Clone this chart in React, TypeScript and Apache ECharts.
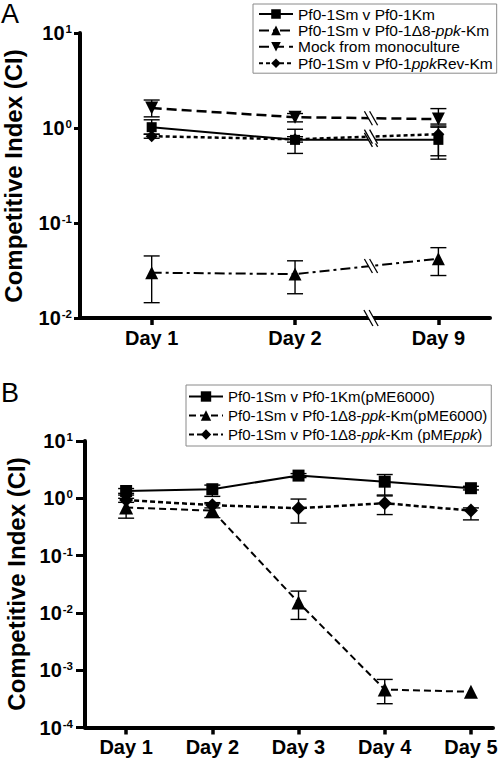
import React, { useEffect, useRef } from 'react';
import * as echarts from 'echarts';

const FONT = '"Liberation Sans", Arial, Helvetica, sans-serif';

// ---------- Panel A ----------
const daysA = ['Day 1', 'Day 2', 'Day 9'];
const posA = [1, 2, 3];
const namesA = [
  'Pf0-1Sm v Pf0-1Km',
  'Pf0-1Sm v Pf0-1Δ8-ppk-Km',
  'Mock from monoculture',
  'Pf0-1Sm v Pf0-1ppkRev-Km',
];
const richNamesA = [
  'Pf0-1Sm v Pf0-1Km',
  'Pf0-1Sm v Pf0-1Δ8-{i|ppk}-Km',
  'Mock from monoculture',
  'Pf0-1Sm v Pf0-1{i|ppk}Rev-Km',
];
const kmA = [1.02, 0.75, 0.75];
const kmA_lo = [0.86, 0.54, 0.51];
const kmA_hi = [1.22, 0.97, 1.02];
const d8A = [0.03, 0.029, 0.042];
const d8A_lo = [0.0145, 0.018, 0.028];
const d8A_hi = [0.045, 0.04, 0.055];
const mockA = [1.62, 1.3, 1.24];
const mockA_lo = [1.31, 1.16, 1.1];
const mockA_hi = [1.97, 1.42, 1.6];
const revA = [0.82, 0.76, 0.86];
const revA_lo = [0.78, 0.71, 0.47];
const revA_hi = [0.86, 0.81, 1.05];
const BREAK_AT = 2.53;

// ---------- Panel B ----------
const daysB = ['Day 1', 'Day 2', 'Day 3', 'Day 4', 'Day 5'];
const posB = [1, 2, 3, 4, 5];
const namesB = [
  'Pf0-1Sm v Pf0-1Km(pME6000)',
  'Pf0-1Sm v Pf0-1Δ8-ppk-Km(pME6000)',
  'Pf0-1Sm v Pf0-1Δ8-ppk-Km (pMEppk)',
];
const richNamesB = [
  'Pf0-1Sm v Pf0-1Km(pME6000)',
  'Pf0-1Sm v Pf0-1Δ8-{i|ppk}-Km(pME6000)',
  'Pf0-1Sm v Pf0-1Δ8-{i|ppk}-Km (pME{i|ppk})',
];
const kmB = [1.34, 1.44, 2.49, 1.95, 1.5];
const kmB_lo = [1.22, 1.08, 2.3, 1.14, 1.4];
const kmB_hi = [1.48, 1.7, 2.7, 2.6, 1.62];
const d8B = [0.69, 0.61, 0.0152, 0.00046, 0.00042];
const d8B_lo = [0.45, 0.46, 0.0077, 0.00026, null];
const d8B_hi = [1.14, 0.8, 0.024, 0.00069, null];
const ppkB = [0.93, 0.76, 0.67, 0.82, 0.61];
const ppkB_lo = [0.85, 0.68, 0.37, 0.52, 0.42];
const ppkB_hi = [1.0, 0.84, 0.97, 1.1, 0.68];

const BLACK = '#000';

function lineSeries(name: string, pos: number[], vals: number[], gi: number, symbol: string, size: number, dash: any, width: number, rotate = 0) {
  return {
    type: 'line',
    name,
    xAxisIndex: gi,
    yAxisIndex: gi,
    data: pos.map((x, i) => [x, vals[i]]),
    symbol,
    symbolSize: size,
    symbolRotate: rotate,
    color: BLACK,
    itemStyle: { color: BLACK },
    lineStyle: { color: BLACK, width, type: dash },
    z: 3,
  };
}

function errSeries(pos: number[], lo: (number | null)[], hi: (number | null)[], gi: number) {
  const data = pos
    .map((x, i) => (lo[i] == null || hi[i] == null ? null : [x, lo[i], hi[i]]))
    .filter((d) => d != null);
  return {
    type: 'custom',
    xAxisIndex: gi,
    yAxisIndex: gi,
    data,
    encode: { x: 0, y: [1, 2] },
    z: 2,
    silent: true,
    renderItem: (params: any, api: any) => {
      const x = api.value(0);
      const a = api.coord([x, api.value(1)]);
      const b = api.coord([x, api.value(2)]);
      const w = 8;
      const style = { stroke: BLACK, lineWidth: 1.4 };
      return {
        type: 'group',
        children: [
          { type: 'line', shape: { x1: a[0], y1: a[1], x2: b[0], y2: b[1] }, style },
          { type: 'line', shape: { x1: a[0] - w, y1: a[1], x2: a[0] + w, y2: a[1] }, style },
          { type: 'line', shape: { x1: b[0] - w, y1: b[1], x2: b[0] + w, y2: b[1] }, style },
        ],
      };
    },
  };
}

function breakSeries() {
  const lines = [kmA, d8A, mockA, revA];
  const data: number[][] = lines.map((arr) => [posA[1], arr[1], posA[2], arr[2]]);
  data.push([posA[1], 0.01, posA[2], 0.01]);
  return {
    type: 'custom',
    xAxisIndex: 0,
    yAxisIndex: 0,
    data,
    encode: { x: [0, 2], y: [1, 3] },
    z: 6,
    silent: true,
    clip: false,
    renderItem: (params: any, api: any) => {
      const x0 = api.value(0);
      const x1 = api.value(2);
      const p1 = api.coord([x0, api.value(1)]);
      const p2 = api.coord([x1, api.value(3)]);
      const t = (BREAK_AT - x0) / (x1 - x0);
      const cx = p1[0] + t * (p2[0] - p1[0]);
      const cy = p1[1] + t * (p2[1] - p1[1]);
      const axis = params.dataIndex === 4;
      const dx = axis ? 4.5 : 4;
      const dy = axis ? 8 : 7;
      const g = 2.6;
      const st = { stroke: BLACK, lineWidth: 1.3 };
      return {
        type: 'group',
        children: [
          {
            type: 'polygon',
            shape: { points: [[cx - g - dx, cy - dy], [cx + g - dx, cy - dy], [cx + g + dx, cy + dy], [cx - g + dx, cy + dy]] },
            style: { fill: '#fff' },
          },
          { type: 'line', shape: { x1: cx - g - dx, y1: cy - dy, x2: cx - g + dx, y2: cy + dy }, style: st },
          { type: 'line', shape: { x1: cx + g - dx, y1: cy - dy, x2: cx + g + dx, y2: cy + dy }, style: st },
        ],
      };
    },
  };
}

function yAxis(gi: number, min: number, tickLen: number, margin: number) {
  return {
    type: 'log',
    logBase: 10,
    gridIndex: gi,
    min,
    max: 10,
    axisLine: { show: true, onZero: false, lineStyle: { color: BLACK, width: 4 } },
    axisTick: { show: true, length: tickLen, lineStyle: { color: BLACK, width: 3 } },
    splitLine: { show: false },
    minorTick: { show: false },
    axisLabel: {
      margin,
      formatter: (v: number) => '{b|10}{s|' + Math.round(Math.log10(v)) + '}',
      rich: {
        b: { fontSize: 20, fontWeight: 'bold', fontFamily: FONT, color: BLACK, lineHeight: 22 },
        s: { fontSize: 11.5, fontWeight: 'bold', fontFamily: FONT, color: BLACK, verticalAlign: 'top', padding: [1, 0, 0, 1] },
      },
    },
  };
}

function xAxis(gi: number, min: number, max: number, pos: number[], labels: string[], margin: number) {
  return {
    type: 'value',
    gridIndex: gi,
    min,
    max,
    axisLine: { show: true, onZero: false, lineStyle: { color: BLACK, width: 4 } },
    axisTick: { show: true, length: 7, customValues: pos, lineStyle: { color: BLACK, width: 3.5 } },
    splitLine: { show: false },
    axisLabel: {
      customValues: pos,
      formatter: (v: number) => labels[pos.indexOf(v)] ?? '',
      margin,
      fontSize: 20,
      fontWeight: 'bold',
      fontFamily: FONT,
      color: BLACK,
    },
  };
}

function legend(names: string[], rich: string[], left: number, top: number, fontSize: number, lineHeight: number, itemGap: number, itemHeight: number, padding: number[]) {
  return {
    data: names,
    orient: 'vertical',
    left,
    top,
    itemWidth: 34,
    itemHeight,
    itemGap,
    padding,
    borderColor: '#8a8a8a',
    borderWidth: 1,
    selectedMode: false,
    formatter: (n: string) => rich[names.indexOf(n)],
    textStyle: {
      fontFamily: FONT,
      fontSize,
      color: BLACK,
      lineHeight,
      rich: {
        i: { fontFamily: FONT, fontSize, fontStyle: 'italic', color: BLACK, lineHeight },
      },
    },
  };
}

export default function App() {
  const ref = useRef<HTMLDivElement>(null);
  useEffect(() => {
    if (!ref.current) return;
    const chart = echarts.init(ref.current, null, { renderer: 'svg' });
    const option: any = {
      animation: false,
      backgroundColor: '#fff',
      grid: [
        { left: 80, right: 10, top: 33, bottom: 443, outerBoundsMode: 'none' },
        { left: 85, right: 7, top: 441, bottom: 33.5, outerBoundsMode: 'none' },
      ],
      xAxis: [
        xAxis(0, 0.5, 3.36, posA, daysA, 10),
        xAxis(1, 0.523, 5.256, posB, daysB, 9),
      ],
      yAxis: [yAxis(0, 0.01, 6, 8), yAxis(1, 0.0001, 9, 12)],
      legend: [
        legend(namesA, richNamesA, 253, 4, 15.5, 16, 0.4, 12, [2, 4, 2, 5]),
        legend(namesB, richNamesB, 186, 385, 15, 17, 2, 13, [3, 4, 3, 2]),
      ],
      graphic: [
        { type: 'text', x: 1, y: 0, style: { text: 'A', fontSize: 27, fontFamily: FONT, fill: BLACK } },
        { type: 'text', x: 1, y: 379, style: { text: 'B', fontSize: 27, fontFamily: FONT, fill: BLACK } },
        {
          type: 'text', x: 13, y: 176, rotation: Math.PI / 2,
          style: { text: 'Competitive Index (CI)', fontSize: 24, fontWeight: 'bold', fontFamily: FONT, fill: BLACK, align: 'center', verticalAlign: 'middle' },
        },
        {
          type: 'text', x: 16, y: 584, rotation: Math.PI / 2,
          style: { text: 'Competitive Index (CI)', fontSize: 24, fontWeight: 'bold', fontFamily: FONT, fill: BLACK, align: 'center', verticalAlign: 'middle' },
        },
      ],
      series: [
        errSeries(posA, kmA_lo, kmA_hi, 0),
        errSeries(posA, d8A_lo, d8A_hi, 0),
        errSeries(posA, mockA_lo, mockA_hi, 0),
        errSeries(posA, revA_lo, revA_hi, 0),
        lineSeries(namesA[0], posA, kmA, 0, 'rect', 10, 'solid', 2),
        lineSeries(namesA[1], posA, d8A, 0, 'triangle', 13, [10, 4, 3, 4], 2),
        lineSeries(namesA[2], posA, mockA, 0, 'triangle', 13, [10, 5], 2.5, 180),
        lineSeries(namesA[3], posA, revA, 0, 'diamond', 12, [4, 3], 2.5),
        breakSeries(),
        errSeries(posB, kmB_lo, kmB_hi, 1),
        errSeries(posB, d8B_lo, d8B_hi, 1),
        errSeries(posB, ppkB_lo, ppkB_hi, 1),
        lineSeries(namesB[0], posB, kmB, 1, 'rect', 12, 'solid', 2),
        lineSeries(namesB[1], posB, d8B, 1, 'triangle', 14, [7, 4], 2),
        lineSeries(namesB[2], posB, ppkB, 1, 'diamond', 14, [5, 3], 2.5),
      ],
    };
    chart.setOption(option);
    return () => chart.dispose();
  }, []);
  return <div ref={ref} style={{ position: 'absolute', left: 0, top: 0, width: 500, height: 761 }} />;
}
